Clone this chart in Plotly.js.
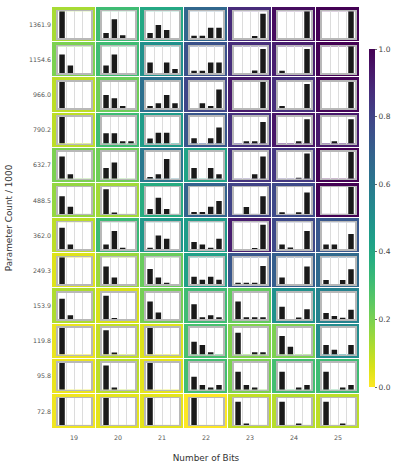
<!DOCTYPE html>
<html><head><meta charset="utf-8">
<script src="https://cdn.plot.ly/plotly-3.0.1.min.js"></script>
<style>
html, body { margin: 0; padding: 0; background: #fff; }
#chart { width: 399px; height: 466px; }
</style></head><body>
<div id="chart"></div>
<script>
// columns and rows of the grid (rows listed top to bottom)
const bits = ['19', '20', '21', '22', '23', '24', '25'];
const params = ['1361.9', '1154.6', '966.0', '790.2', '632.7', '488.5',
                '362.0', '249.3', '153.9', '119.8', '95.8', '72.8'];
const slots = ['s1', 's2', 's3', 's4'];

// cell colour value (0..1), one row per parameter count
const score = [
    [0.13, 0.31, 0.40, 0.67, 0.88, 0.97, 1.00],
    [0.20, 0.31, 0.50, 0.75, 0.87, 0.92, 1.00],
    [0.10, 0.22, 0.63, 0.79, 0.93, 0.87, 0.99],
    [0.10, 0.31, 0.45, 0.73, 0.86, 0.94, 0.93],
    [0.20, 0.22, 0.60, 0.42, 0.85, 0.84, 1.00],
    [0.16, 0.14, 0.38, 0.68, 0.80, 0.78, 1.00],
    [0.10, 0.32, 0.47, 0.45, 0.92, 0.78, 0.73],
    [0.05, 0.15, 0.23, 0.43, 0.73, 0.70, 0.66],
    [0.12, 0.06, 0.21, 0.31, 0.24, 0.50, 0.56],
    [0.03, 0.09, 0.05, 0.29, 0.19, 0.20, 0.52],
    [0.03, 0.10, 0.04, 0.30, 0.20, 0.30, 0.31],
    [0.02, 0.04, 0.04, 0.00, 0.09, 0.11, 0.10]
];

// share of each of the 4 slots inside every cell
const shares = [
    [[1, 0, 0, 0], [0.19, 0.7, 0.1, 0], [0.19, 0.49, 0.3, 0], [0.09, 0.09, 0.38, 0.38], [0, 0, 0.08, 0.9], [0, 0, 0, 1], [0, 0, 0, 1]],
    [[0.7, 0.29, 0, 0], [0.29, 0.7, 0, 0], [0.4, 0, 0.4, 0.16], [0.09, 0.09, 0.4, 0.4], [0, 0, 0.1, 0.9], [0.09, 0, 0, 0.9], [0, 0, 0, 1]],
    [[1, 0, 0, 0], [0.5, 0.38, 0.09, 0], [0.09, 0.19, 0.5, 0.19], [0, 0.19, 0.09, 0.7], [0, 0, 0, 1], [0.09, 0, 0, 0.91], [0, 0, 0, 1]],
    [[1, 0, 0, 0], [0.38, 0.38, 0.09, 0.09], [0.19, 0.4, 0.4, 0], [0.2, 0, 0.2, 0.6], [0, 0.09, 0.09, 0.8], [0, 0, 0.09, 0.9], [0, 0.09, 0, 0.9]],
    [[0.83, 0.17, 0, 0], [0.4, 0.6, 0, 0], [0.06, 0.17, 0.73, 0], [0.4, 0, 0.4, 0.17], [0, 0, 0.17, 0.83], [0, 0, 0.04, 0.94], [0, 0, 0, 1]],
    [[0.66, 0.27, 0, 0], [0.92, 0.05, 0, 0], [0.18, 0.6, 0.18, 0], [0.07, 0.07, 0.27, 0.48], [0, 0.26, 0, 0.66], [0.06, 0, 0.06, 0.8], [0, 0, 0, 1]],
    [[0.79, 0.17, 0, 0], [0.17, 0.67, 0.05, 0], [0.05, 0.5, 0.38, 0], [0.26, 0.17, 0.05, 0.38], [0, 0, 0.04, 0.9], [0.17, 0.06, 0, 0.67], [0.17, 0.17, 0, 0.56]],
    [[1, 0, 0, 0], [0.66, 0.25, 0, 0], [0.57, 0.25, 0.05, 0], [0.28, 0.17, 0.28, 0.17], [0.05, 0.05, 0.05, 0.68], [0.25, 0, 0, 0.66], [0.16, 0, 0.16, 0.56]],
    [[0.77, 0.15, 0, 0], [0.88, 0.05, 0, 0], [0.67, 0.26, 0, 0], [0.56, 0.08, 0.15, 0.08], [0.67, 0.08, 0.08, 0.08], [0.47, 0, 0.07, 0.38], [0.24, 0.13, 0.06, 0.36]],
    [[1, 0, 0, 0], [0.9, 0.08, 0, 0], [1, 0, 0, 0], [0.48, 0.36, 0.09, 0], [0.81, 0, 0.09, 0.09], [0.69, 0.29, 0, 0], [0.36, 0.18, 0, 0.36]],
    [[1, 0, 0, 0], [0.9, 0.08, 0, 0], [1, 0, 0, 0], [0.48, 0.18, 0.08, 0.18], [0.67, 0.18, 0.08, 0], [0.67, 0, 0.08, 0.18], [0.67, 0, 0.08, 0.18]],
    [[1, 0, 0, 0], [1, 0, 0, 0], [1, 0, 0, 0], [1, 0, 0, 0], [0.86, 0.05, 0, 0], [0.86, 0, 0.05, 0], [0.86, 0, 0.05, 0]]
];

const font = 'DejaVu Sans, sans-serif';
const nc = bits.length, nr = params.length;

const traces = [{
    type: 'heatmap', x: bits, y: params, z: score,
    zmin: 0, zmax: 1, colorscale: 'Viridis', reversescale: true,
    xgap: 1, ygap: 1, hoverinfo: 'skip',
    colorbar: {
        thickness: 6, len: 0.8, x: 1.03, xanchor: 'left', xpad: 0, ypad: 0,
        outlinewidth: 0, ticks: 'outside', ticklen: 2.5, tickwidth: 0.8, tickcolor: '#444',
        tickvals: [0, 0.2, 0.4, 0.6, 0.8, 1.0], tickformat: '.1f',
        tickfont: { family: font, size: 7.5, color: '#444' }
    }
}];

const layout = {
    width: 399, height: 466,
    margin: { l: 52, r: 39, t: 7, b: 37 },
    paper_bgcolor: '#fff', plot_bgcolor: '#fff',
    showlegend: false, bargap: 0.34,
    font: { family: font, color: '#444' },
    xaxis: {
        type: 'category', showgrid: false, zeroline: false, ticks: '',
        ticklabelstandoff: 4,
        tickfont: { size: 6.3, color: '#555' },
        title: { text: 'Number of Bits', font: { size: 8.9, color: '#333' }, standoff: 14 }
    },
    yaxis: {
        type: 'category', autorange: 'reversed', showgrid: false, zeroline: false, ticks: '',
        tickfont: { size: 6.3, color: '#555' },
        title: { text: 'Parameter Count / 1000', font: { size: 8.9, color: '#333' }, standoff: 14 }
    }
};

// one small bar inset per cell, light separators between the 4 slots
for (let r = 0; r < nr; r++) {
    for (let c = 0; c < nc; c++) {
        const k = r * nc + c + 2;
        const y0 = (nr - 1 - r) / nr;
        layout['xaxis' + k] = {
            anchor: 'y' + k, type: 'category', range: [-0.5, 3.5],
            domain: [(c + 0.134) / nc, (c + 0.89) / nc],
            showline: true, mirror: true, linecolor: '#b8b8b8', linewidth: 1.5,
            showgrid: true, tickmode: 'array', tickvals: [0.5, 1.5, 2.5],
            gridcolor: '#dcdcdc', gridwidth: 1.2,
            showticklabels: false, ticks: '', zeroline: false, fixedrange: true
        };
        layout['yaxis' + k] = {
            anchor: 'x' + k, range: [0, 1],
            domain: [y0 + 0.117 / nr, y0 + 0.881 / nr],
            showline: true, mirror: true, linecolor: '#b8b8b8', linewidth: 1.5,
            showgrid: false, showticklabels: false, ticks: '', zeroline: false, fixedrange: true
        };
        traces.push({
            type: 'bar', x: slots, y: shares[r][c],
            xaxis: 'x' + k, yaxis: 'y' + k,
            marker: { color: '#1a1a1a', line: { width: 0 } },
            hoverinfo: 'skip'
        });
    }
}

Plotly.newPlot('chart', traces, layout, { staticPlot: true, displayModeBar: false });
</script>
</body></html>
